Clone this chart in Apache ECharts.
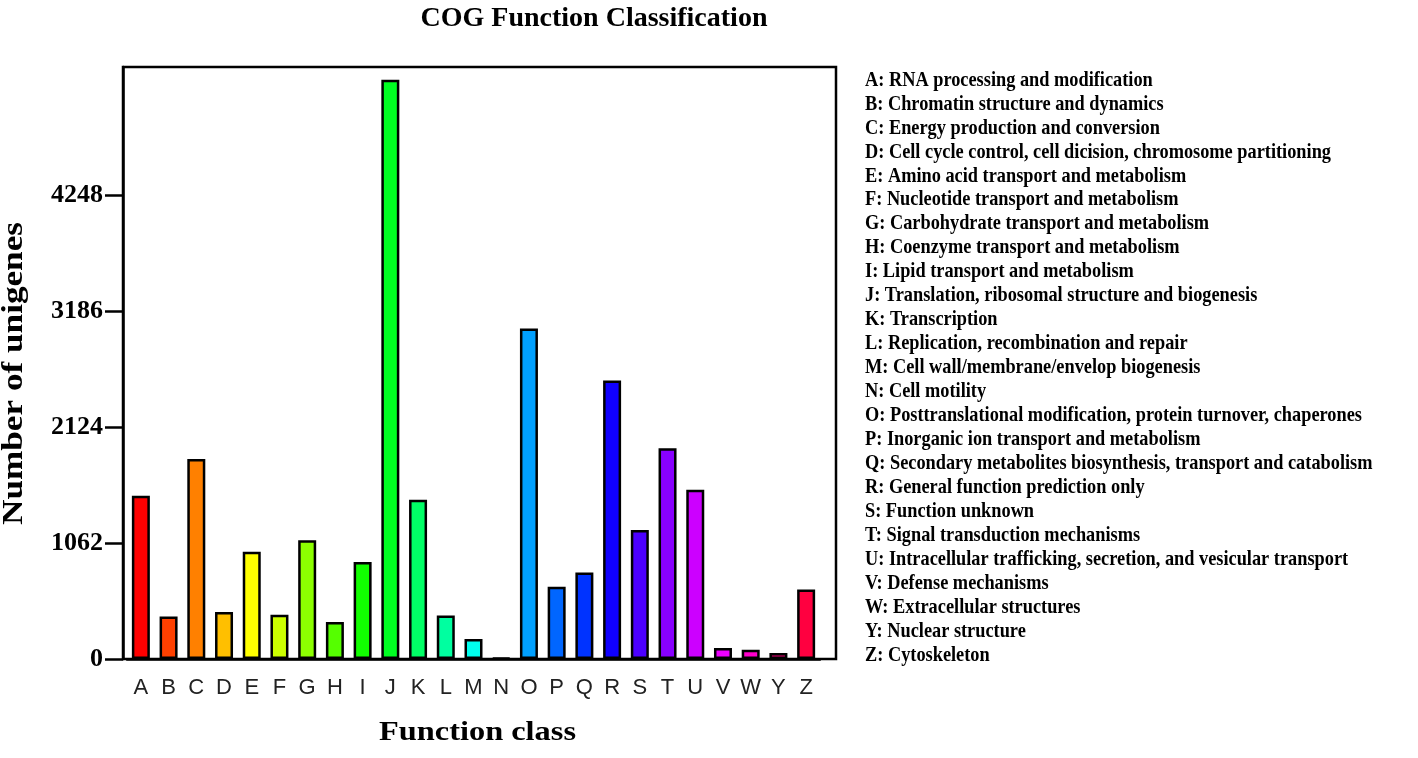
<!DOCTYPE html>
<html>
<head>
<meta charset="utf-8">
<script src="https://cdn.jsdelivr.net/npm/echarts@6/dist/echarts.min.js"></script>
<style>
html,body{margin:0;padding:0;background:#fff;}
#chart{width:1418px;height:758px;}
</style>
</head>
<body>
<div id="chart"></div>
<script>
var categories = ['A','B','C','D','E','F','G','H','I','J','K','L','M','N','O','P','Q','R','S','T','U','V','W','Y','Z'];
var counts = [1495, 389, 1831, 430, 981, 405, 1088, 338, 889, 5304, 1459, 398, 183, 9, 3025, 661, 792, 2550, 1182, 1929, 1550, 100, 85, 55, 636];
var barColors = ['#FF0000','#FF4000','#FF8000','#FFBF00','#FFFF00','#CCFF00','#8CFF00','#55FF00','#11FF00','#00FF22','#00FF66','#00FFA0','#00FFEE','#00FFFF','#00A0FF','#0066FF','#0033FF','#1000FF','#4C00FF','#8800FF','#CC00FF','#EE00FF','#FF00CC','#EE0077','#FF0040'];
var yTicks = [0, 1062, 2124, 3186, 4248];
var yMax = 5420;
var titleText = 'COG Function Classification';
var xName = 'Function class';
var yName = 'Number of unigenes';
var descriptions = [
  'A: RNA processing and modification',
  'B: Chromatin structure and dynamics',
  'C: Energy production and conversion',
  'D: Cell cycle control, cell dicision, chromosome partitioning',
  'E: Amino acid transport and metabolism',
  'F: Nucleotide transport and metabolism',
  'G: Carbohydrate transport and metabolism',
  'H: Coenzyme transport and metabolism',
  'I: Lipid transport and metabolism',
  'J: Translation, ribosomal structure and biogenesis',
  'K: Transcription',
  'L: Replication, recombination and repair',
  'M: Cell wall/membrane/envelop biogenesis',
  'N: Cell motility',
  'O: Posttranslational modification, protein turnover, chaperones',
  'P: Inorganic ion transport and metabolism',
  'Q: Secondary metabolites biosynthesis, transport and catabolism',
  'R: General function prediction only',
  'S: Function unknown',
  'T: Signal transduction mechanisms',
  'U: Intracellular trafficking, secretion, and vesicular transport',
  'V: Defense mechanisms',
  'W: Extracellular structures',
  'Y: Nuclear structure',
  'Z: Cytoskeleton'
];

var serif = '"Liberation Serif","Times New Roman",serif';
var legendFont = 'bold 22px ' + serif;
var nameFontY = 'bold 30px ' + serif;
var nameFontX = 'bold 27px ' + serif;
var cv = document.createElement('canvas').getContext('2d');
function widthOf(font, t) { cv.font = font; return cv.measureText(t).width; }
// horizontal scale factors so text widths match the reference
var legendScale = 466 / widthOf(legendFont, descriptions[3]);
var yNameScale = 303 / widthOf(nameFontY, yName);
var xNameScale = 197 / widthOf(nameFontX, xName);

var legendTexts = descriptions.map(function (t, i) {
  return {
    type: 'text',
    x: 865,
    y: 80 + i * 23.96,
    scaleX: legendScale,
    style: {text: t, font: legendFont, fill: '#000', textVerticalAlign: 'middle', textAlign: 'left'}
  };
});

var chart = echarts.init(document.getElementById('chart'), null, {renderer: 'canvas'});
chart.setOption({
  backgroundColor: '#fff',
  animation: false,
  title: {
    text: titleText,
    left: 589, top: 0, textAlign: 'center',
    textStyle: {fontFamily: serif, fontWeight: 'bold', fontSize: 28, color: '#000'}
  },
  grid: {left: 127, right: 598, top: 67, bottom: 99, containLabel: false},
  xAxis: {
    type: 'category',
    data: categories,
    axisLine: {show: true, lineStyle: {color: '#000', width: 2.5}},
    axisTick: {show: false},
    axisLabel: {fontFamily: '"Liberation Sans",Arial,sans-serif', fontSize: 22, color: '#222', margin: 18, interval: 0}
  },
  yAxis: {
    type: 'value',
    min: 0, max: yMax, interval: 1062,
    offset: 4,
    splitLine: {show: false},
    axisLine: {show: true, lineStyle: {color: '#000', width: 2.5}},
    axisTick: {show: true, length: 18, lineStyle: {color: '#000', width: 2.5}, customValues: yTicks},
    axisLabel: {
      fontFamily: serif, fontWeight: 'bold', fontSize: 26, color: '#000', margin: 20,
      customValues: yTicks,
      formatter: function (v) { return yTicks.indexOf(v) >= 0 ? String(v) : ''; }
    }
  },
  series: [{
    type: 'bar',
    data: counts.map(function (v, i) { return {value: v, itemStyle: {color: barColors[i]}}; }),
    barWidth: 18,
    itemStyle: {borderColor: '#000', borderWidth: 2.5}
  }],
  graphic: [{
    type: 'rect',
    shape: {x: 123, y: 67, width: 713, height: 592},
    style: {fill: 'none', stroke: '#000', lineWidth: 2.5},
    z: 10, silent: true
  }, {
    type: 'text',
    x: 14, y: 373.5,
    rotation: Math.PI / 2,
    scaleX: yNameScale,
    style: {text: yName, font: nameFontY, fill: '#000', textAlign: 'center', textVerticalAlign: 'middle'}
  }, {
    type: 'text',
    x: 477.5, y: 733,
    scaleX: xNameScale,
    style: {text: xName, font: nameFontX, fill: '#000', textAlign: 'center', textVerticalAlign: 'middle'}
  }].concat(legendTexts)
});
</script>
</body>
</html>
